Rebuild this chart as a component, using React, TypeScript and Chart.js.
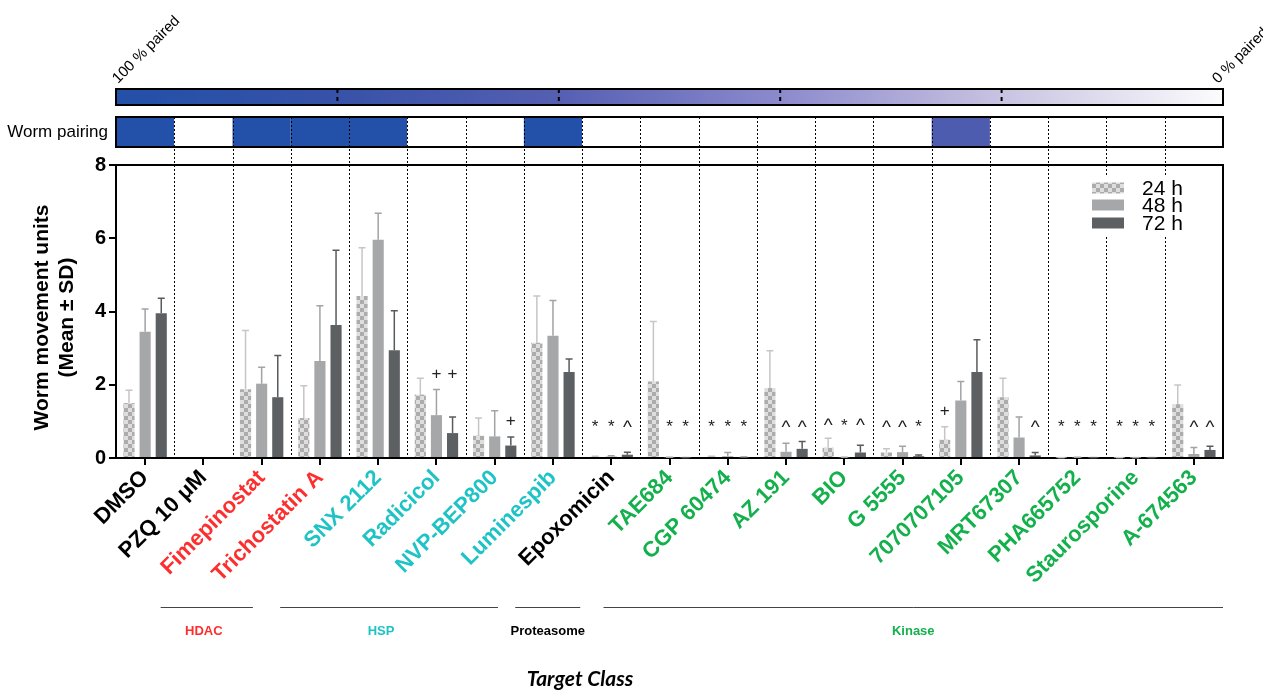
import React, { useEffect, useRef } from 'react';
import { Chart, registerables } from 'chart.js';

Chart.register(...registerables);

// ---------------- data ----------------
const categories = [
  'DMSO', 'PZQ 10 μM', 'Fimepinostat', 'Trichostatin A', 'SNX 2112', 'Radicicol',
  'NVP-BEP800', 'Luminespib', 'Epoxomicin', 'TAE684', 'CGP 60474', 'AZ 191', 'BIO',
  'G 5555', '7070707105', 'MRT67307', 'PHA665752', 'Staurosporine', 'A-674563',
];
const targetClass = [
  '', '', 'HDAC', 'HDAC', 'HSP', 'HSP', 'HSP', 'HSP', 'Proteasome', 'Kinase', 'Kinase',
  'Kinase', 'Kinase', 'Kinase', 'Kinase', 'Kinase', 'Kinase', 'Kinase', 'Kinase',
];
const seriesNames = ['24 h', '48 h', '72 h'];
const mean24 = [1.5, 0, 1.88, 1.09, 4.42, 1.73, 0.61, 3.15, 0.03, 2.09, 0.03, 1.91, 0.28, 0.15, 0.5, 1.66, 0.01, 0.01, 1.47];
const sd24 = [0.35, 0, 1.6, 0.88, 1.32, 0.45, 0.48, 1.27, 0.02, 1.64, 0.02, 1.02, 0.26, 0.1, 0.35, 0.52, 0, 0, 0.52];
const mean48 = [3.45, 0, 2.03, 2.65, 5.96, 1.17, 0.59, 3.34, 0.04, 0.02, 0.05, 0.17, 0.02, 0.16, 1.57, 0.56, 0.02, 0.01, 0.11];
const sd48 = [0.62, 0, 0.45, 1.51, 0.72, 0.7, 0.7, 0.96, 0.02, 0, 0.1, 0.23, 0, 0.16, 0.52, 0.56, 0, 0, 0.18];
const mean72 = [3.95, 0, 1.66, 3.63, 2.94, 0.68, 0.34, 2.35, 0.09, 0.01, 0.02, 0.25, 0.15, 0.05, 2.35, 0.07, 0.01, 0.01, 0.22];
const sd72 = [0.41, 0, 1.14, 2.04, 1.08, 0.44, 0.23, 0.35, 0.07, 0, 0, 0.2, 0.2, 0.03, 0.88, 0.08, 0, 0, 0.1];
const ann24 = ['', '', '', '', '', '', '', '', '*', '', '*', '', '^', '^', '+', '', '*', '*', ''];
const ann48 = ['', '', '', '', '', '+', '', '', '*', '*', '*', '^', '*', '^', '', '', '*', '*', '^'];
const ann72 = ['', '', '', '', '', '+', '+', '', '^', '*', '*', '^', '^', '*', '', '^', '*', '*', '^'];
const pairingPct = [100, 0, 100, 100, 100, 0, 0, 100, 0, 0, 0, 0, 0, 0, 65, 0, 0, 0, 0];
const yTicks = [0, 2, 4, 6, 8];
const groupOrder = ['HDAC', 'HSP', 'Proteasome', 'Kinase'];

// ---------------- styles ----------------
const FONT = '"Liberation Sans", Arial, Helvetica, sans-serif';
const classColor: Record<string, string> = {
  '': '#000000', HDAC: '#ff2e2e', HSP: '#1ec3c6', Proteasome: '#000000', Kinase: '#13b04c',
};
const barColors = ['#d2d2d2', '#a6a7a9', '#5d6063'];
const errColors = ['#c6c6c6', '#a2a3a5', '#585b5e'];
const GRAD: [number, number[]][] = [
  [0, [35, 80, 168]], [0.2, [55, 82, 168]], [0.4, [85, 95, 178]],
  [0.6, [140, 138, 205]], [0.8, [200, 195, 225]], [1, [252, 252, 253]],
];
function gradColor(t: number) {
  for (let i = 0; i < GRAD.length - 1; i++) {
    const [t0, c0] = GRAD[i];
    const [t1, c1] = GRAD[i + 1];
    if (t <= t1) {
      const f = (t - t0) / (t1 - t0);
      const c = c0.map((v, k) => Math.round(v + (c1[k] - v) * f));
      return `rgb(${c[0]},${c[1]},${c[2]})`;
    }
  }
  return '#ffffff';
}
function pairColor(p: number) {
  return p <= 0 ? '#ffffff' : gradColor(1 - p / 100);
}
function makeChecker(): CanvasPattern | string {
  const c = document.createElement('canvas');
  c.width = 8; c.height = 8;
  const g = c.getContext('2d');
  if (!g) return barColors[0];
  g.fillStyle = '#acacac'; g.fillRect(0, 0, 8, 8);
  g.fillStyle = '#dedede'; g.fillRect(0, 0, 4, 4); g.fillRect(4, 4, 4, 4);
  return g.createPattern(c, 'repeat') || barColors[0];
}

const means = [mean24, mean48, mean72];
const sds = [sd24, sd48, sd72];
const anns = [ann24, ann48, ann72];

const decoPlugin = {
  id: 'deco',
  beforeDraw(chart: any) {
    const { ctx, chartArea: a, scales } = chart;
    const x = scales.x;
    ctx.save();
    ctx.fillStyle = '#ffffff';
    ctx.fillRect(0, 0, chart.width, chart.height);

    // gradient bar
    const gTop = a.top - 76, gH = 16;
    const grad = ctx.createLinearGradient(a.left, 0, a.right, 0);
    GRAD.forEach(([t, c]) => grad.addColorStop(t, `rgb(${c[0]},${c[1]},${c[2]})`));
    ctx.fillStyle = grad;
    ctx.fillRect(a.left, gTop, a.right - a.left, gH);
    ctx.strokeStyle = '#000'; ctx.lineWidth = 2; ctx.setLineDash([4, 4]);
    for (let k = 1; k < 5; k++) {
      const px = a.left + (a.right - a.left) * k / 5;
      ctx.beginPath(); ctx.moveTo(px, gTop); ctx.lineTo(px, gTop + gH); ctx.stroke();
    }
    ctx.setLineDash([]);
    ctx.strokeRect(a.left, gTop, a.right - a.left, gH);

    // pairing row cells
    const pTop = a.top - 48, pH = 30;
    const n = categories.length;
    const edge = (i: number) => i <= 0 ? a.left : i >= n ? a.right
      : (x.getPixelForValue(i - 1) + x.getPixelForValue(i)) / 2;
    for (let i = 0; i < n; i++) {
      ctx.fillStyle = pairColor(pairingPct[i]);
      ctx.fillRect(edge(i), pTop, edge(i + 1) - edge(i), pH);
    }

    // top labels
    ctx.fillStyle = '#000';
    ctx.font = `15px ${FONT}`;
    ctx.textAlign = 'left'; ctx.textBaseline = 'alphabetic';
    [[a.left, '100 % paired'], [a.right - 7, '0 % paired']].forEach(([px, s]: any) => {
      ctx.save(); ctx.translate(px + 2, gTop - 5); ctx.rotate(-Math.PI / 4);
      ctx.fillText(s, 0, 0); ctx.restore();
    });
    ctx.font = `17px ${FONT}`;
    ctx.textAlign = 'right'; ctx.textBaseline = 'middle';
    ctx.fillText('Worm pairing', a.left - 8, pTop + pH / 2);
    ctx.restore();
  },
  beforeDatasetsDraw(chart: any) {
    const { ctx, chartArea: a, scales } = chart;
    const x = scales.x;
    const n = categories.length;
    ctx.save();
    ctx.strokeStyle = '#000'; ctx.lineWidth = 1; ctx.setLineDash([2, 2]);
    for (let i = 1; i < n; i++) {
      const px = Math.round((x.getPixelForValue(i - 1) + x.getPixelForValue(i)) / 2) + 0.5;
      ctx.beginPath(); ctx.moveTo(px, a.top - 48); ctx.lineTo(px, a.bottom); ctx.stroke();
    }
    ctx.setLineDash([]);
    // pairing border
    ctx.lineWidth = 2;
    ctx.strokeRect(a.left, a.top - 48, a.right - a.left, 30);

    // legend
    const lx = a.right - 131;
    ctx.fillStyle = '#ffffff';
    ctx.fillRect(lx - 8, a.top + 12, 118, 60);
    const rows = [a.top + 23, a.top + 40, a.top + 58];
    const fills = [chart.data.datasets[0].backgroundColor, barColors[1], barColors[2]];
    rows.forEach((ry: number, k: number) => {
      ctx.fillStyle = fills[k];
      ctx.fillRect(lx, ry - 5.5, 32, 11);
      ctx.fillStyle = '#000';
      ctx.font = `21px ${FONT}`;
      ctx.textAlign = 'left'; ctx.textBaseline = 'middle';
      ctx.fillText(seriesNames[k], lx + 50, ry + 1);
    });
    ctx.restore();
  },
  afterDatasetsDraw(chart: any) {
    const { ctx, chartArea: a, scales } = chart;
    const x = scales.x, y = scales.y;
    ctx.save();
    // error bars
    for (let d = 0; d < 3; d++) {
      const meta = chart.getDatasetMeta(d);
      ctx.strokeStyle = errColors[d]; ctx.lineWidth = 1.5;
      meta.data.forEach((el: any, i: number) => {
        const m = means[d][i], s = sds[d][i];
        if (m <= 0 && s <= 0) return;
        const yTop = y.getPixelForValue(m + s);
        ctx.beginPath();
        ctx.moveTo(el.x, el.y); ctx.lineTo(el.x, yTop);
        ctx.moveTo(el.x - 3.5, yTop); ctx.lineTo(el.x + 3.5, yTop);
        ctx.stroke();
      });
    }
    // significance markers
    const n = categories.length;
    ctx.fillStyle = '#222';
    for (let i = 0; i < n; i++) {
      let top = 0;
      for (let d = 0; d < 3; d++) if (anns[d][i]) top = Math.max(top, means[d][i] + sds[d][i]);
      const level = Math.max(0.95, top + 0.45);
      const cy = y.getPixelForValue(level);
      for (let d = 0; d < 3; d++) {
        const s = anns[d][i];
        if (!s) continue;
        const el = chart.getDatasetMeta(d).data[i];
        ctx.font = s === '^' ? `19px ${FONT}` : `17px ${FONT}`;
        ctx.textAlign = 'center'; ctx.textBaseline = 'alphabetic';
        const mt = ctx.measureText(s);
        const off = (mt.actualBoundingBoxAscent - mt.actualBoundingBoxDescent) / 2;
        ctx.fillText(s, el.x, cy + off);
      }
    }
    // plot box top & right
    ctx.strokeStyle = '#000'; ctx.lineWidth = 2;
    ctx.beginPath();
    ctx.moveTo(a.left, a.top); ctx.lineTo(a.right, a.top); ctx.lineTo(a.right, a.bottom);
    ctx.stroke();

    // y axis title
    ctx.fillStyle = '#000';
    ctx.font = `bold 21px ${FONT}`;
    ctx.textAlign = 'center'; ctx.textBaseline = 'middle';
    ctx.save();
    ctx.translate(42, (a.top + a.bottom) / 2 + 6); ctx.rotate(-Math.PI / 2);
    ctx.fillText('Worm movement units', 0, 0);
    ctx.fillText('(Mean ± SD)', 0, 25);
    ctx.restore();

    // target class groups
    const lineX: Record<string, number[]> = {
      HDAC: [-101, -67, -3], HSP: [-98, -55, -8], Proteasome: [-96, -31, 0], Kinase: [-66, 0, 0],
    };
    groupOrder.forEach((g) => {
      const idx = targetClass.map((c, i) => (c === g ? i : -1)).filter((i) => i >= 0);
      const first = idx[0], last = idx[idx.length - 1];
      const [o1, o2, lo] = lineX[g];
      const x1 = x.getPixelForValue(first) + o1;
      const x2 = g === 'Kinase' ? a.right : x.getPixelForValue(last) + o2;
      ctx.strokeStyle = '#444'; ctx.lineWidth = 1;
      ctx.beginPath(); ctx.moveTo(x1, a.bottom + 149.5); ctx.lineTo(x2, a.bottom + 149.5); ctx.stroke();
      ctx.fillStyle = classColor[g];
      ctx.font = `bold 13px ${FONT}`;
      ctx.textAlign = 'center'; ctx.textBaseline = 'middle';
      ctx.fillText(g, (x1 + x2) / 2 + lo, a.bottom + 173);
    });
    ctx.fillStyle = '#000';
    ctx.font = `italic bold 21px Lato, ${FONT}`;
    ctx.textAlign = 'center'; ctx.textBaseline = 'middle';
    ctx.fillText('Target Class', 580, a.bottom + 221);
    ctx.restore();
  },
};

export default function App() {
  const ref = useRef<HTMLCanvasElement | null>(null);
  useEffect(() => {
    document.body.style.margin = '0';
    const canvas = ref.current;
    if (!canvas) return;
    const checker = makeChecker();
    const chart = new Chart(canvas, {
      type: 'bar',
      data: {
        labels: categories,
        datasets: [
          { label: seriesNames[0], data: mean24, backgroundColor: checker as any, borderWidth: 0 },
          { label: seriesNames[1], data: mean48, backgroundColor: barColors[1], borderWidth: 0 },
          { label: seriesNames[2], data: mean72, backgroundColor: barColors[2], borderWidth: 0 },
        ],
      },
      options: {
        responsive: false,
        animation: false,
        devicePixelRatio: window.devicePixelRatio || 1,
        datasets: { bar: { categoryPercentage: 0.83, barPercentage: 0.69 } },
        layout: { padding: { left: 0, top: 165, right: 40, bottom: 0 } },
        plugins: { legend: { display: false }, tooltip: { enabled: false } },
        scales: {
          x: {
            grid: { offset: false, drawOnChartArea: false, drawTicks: true, tickLength: 7, lineWidth: 2, color: '#000' },
            border: { display: true, width: 2, color: '#000' },
            ticks: {
              autoSkip: false, minRotation: 45, maxRotation: 45, padding: 0,
              color: (c: any) => classColor[targetClass[c.index]] || '#000',
              font: { family: FONT, size: 22, weight: 'bold' },
            },
            afterFit: (s: any) => { s.height = 233; },
          },
          y: {
            min: 0, max: 8,
            afterBuildTicks: (s: any) => { s.ticks = yTicks.map((v) => ({ value: v })); },
            grid: { drawOnChartArea: false, drawTicks: true, tickLength: 7, lineWidth: 2, color: '#000' },
            border: { display: true, width: 2, color: '#000' },
            ticks: { color: '#000', padding: 3, font: { family: FONT, size: 20, weight: 'bold' } },
            afterFit: (s: any) => { s.width = 116; },
          },
        },
      } as any,
      plugins: [decoPlugin],
    });
    return () => chart.destroy();
  }, []);
  return (
    <div style={{ width: 1263, height: 691 }}>
      <canvas ref={ref} width={1263} height={691} style={{ display: 'block' }} />
    </div>
  );
}
